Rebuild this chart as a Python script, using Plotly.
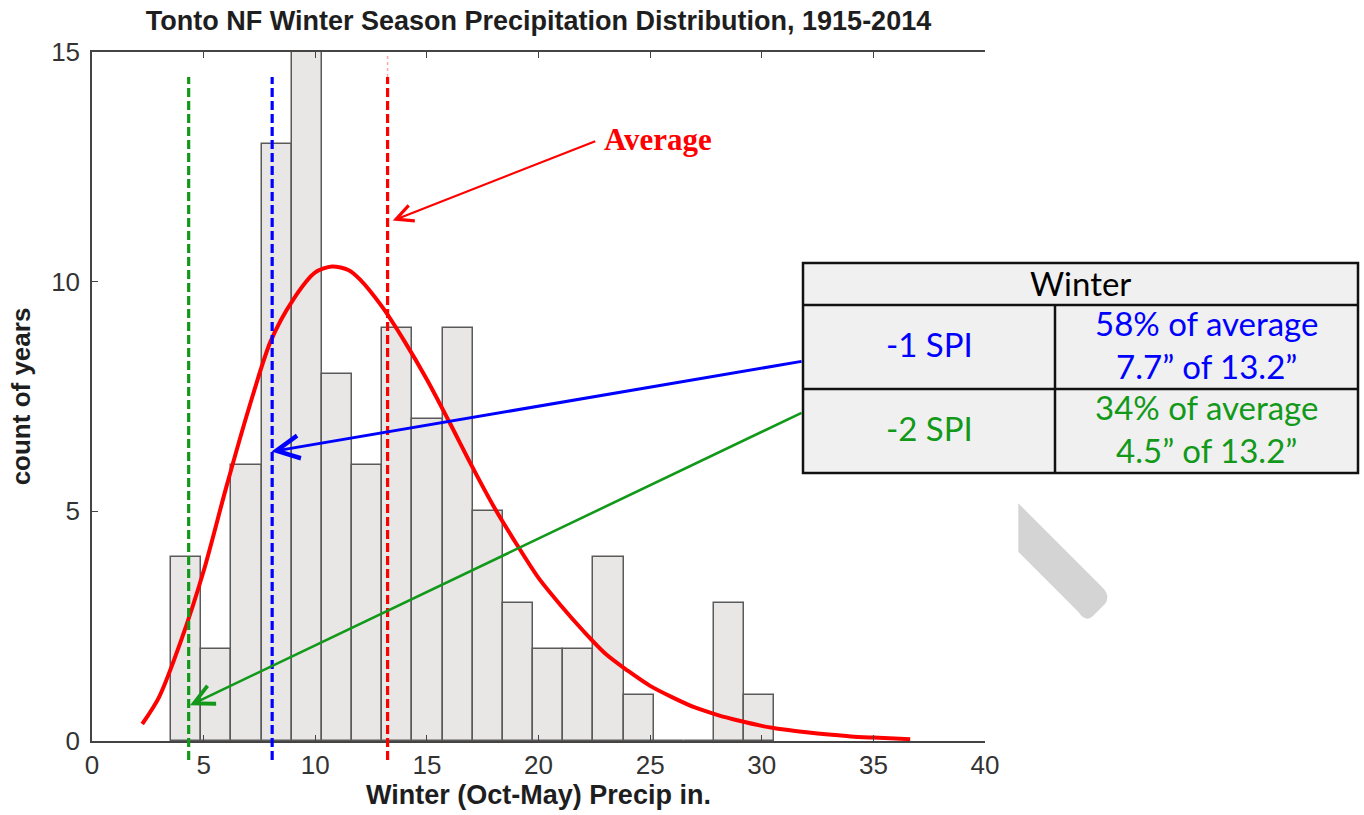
import plotly.graph_objects as go

# ---------------- data ----------------
precip_min = 3.54          # left edge of first histogram bin (in.)
precip_max = 30.57         # right edge of last histogram bin (in.)
year_counts = [4, 2, 6, 13, 15, 8, 6, 9, 7, 9, 5, 3, 2, 2, 4, 1, 0, 0, 3, 1]

fit_x = [2.25, 3, 4, 5, 6, 7, 8, 9, 10, 10.75, 11.5, 12, 13, 14, 15, 16, 17,
         18, 19, 20, 21, 22, 23, 24, 25, 26, 27, 28, 29, 30, 31, 32, 33, 34,
         35, 36.65]
fit_y = [0.37, 0.95, 2.2, 3.7, 5.5, 7.2, 8.7, 9.6, 10.2, 10.33, 10.25, 10.05,
         9.45, 8.7, 7.87, 6.95, 6.0, 5.1, 4.3, 3.55, 2.95, 2.4, 1.9, 1.53,
         1.2, 0.95, 0.73, 0.57, 0.44, 0.33, 0.25, 0.19, 0.14, 0.10, 0.075,
         0.04]

ref_labels = ["-2 SPI", "-1 SPI", "Average"]
ref_values = [4.33, 8.07, 13.24]
ref_colors = ["#12991a", "#0000ff", "#ff0000"]

x_ticks = [0, 5, 10, 15, 20, 25, 30, 35, 40]
y_ticks = [0, 5, 10, 15]

# arrows (Average, -1 SPI, -2 SPI): tip and tail in data units
arrow_tip_x = [13.47, 8.04, 4.39]
arrow_tip_y = [11.33, 6.30, 0.78]
arrow_tail_x = [22.61, 31.85, 31.85]
arrow_tail_y = [13.07, 8.27, 7.16]
arrow_colors = ["#ff0000", "#0000ff", "#12991a"]

table_header = "Winter"
table_rows = ["-1 SPI", "-2 SPI"]
table_pct = ["58% of average", "34% of average"]
table_inch = ["7.7\u201d of 13.2\u201d", "4.5\u201d of 13.2\u201d"]
table_colors = ["#0000ff", "#12991a"]

# ---------------- layout geometry ----------------
W_PX, H_PX = 1364, 815
ML, MR, MT, MB = 92, 379, 52, 74
PW = W_PX - ML - MR
PH = H_PX - MT - MB


def px(xp):
    return (xp - ML) / PW


def py(yp):
    return (H_PX - MB - yp) / PH


n_bins = len(year_counts)
bin_w = (precip_max - precip_min) / n_bins
bin_centers = [precip_min + bin_w * (i + 0.5) for i in range(n_bins)]

AX_FONT = "Liberation Sans"
TXT = "#1e1e1e"

fig = go.Figure()

fig.add_trace(go.Bar(
    x=bin_centers, y=year_counts, width=bin_w,
    marker=dict(color="#e9e6e6", line=dict(color="#5a5a5a", width=1.5)),
    showlegend=False, hoverinfo="x+y",
))

fig.add_trace(go.Scatter(
    x=fit_x, y=fit_y, mode="lines",
    line=dict(color="#ff0000", width=4, shape="spline", smoothing=0.8),
    showlegend=False,
))

shapes = []
for v, c in zip(ref_values, ref_colors):
    shapes.append(dict(
        type="line", xref="x", yref="paper", x0=v, x1=v,
        y0=py(760), y1=py(77), layer="above",
        line=dict(color=c, width=3.2, dash="9px,4px"),
    ))
# faint dotted continuation of the average line
shapes.append(dict(
    type="line", xref="x", yref="paper", x0=ref_values[2], x1=ref_values[2],
    y0=py(77), y1=py(53), layer="above",
    line=dict(color="rgba(255,0,0,0.35)", width=1.5, dash="dot"),
))

# table
TL, TR, TT, TH, TM, TB, TC = 803, 1358, 263, 305, 389, 473, 1055
shapes.append(dict(type="rect", xref="paper", yref="paper",
                   x0=px(TL), x1=px(TR), y0=py(TB), y1=py(TT),
                   fillcolor="#f0f0f0", line=dict(color="#111111", width=2.5),
                   layer="above"))
for yy in (TH, TM):
    shapes.append(dict(type="line", xref="paper", yref="paper",
                       x0=px(TL), x1=px(TR), y0=py(yy), y1=py(yy),
                       line=dict(color="#111111", width=2.5), layer="above"))
shapes.append(dict(type="line", xref="paper", yref="paper",
                   x0=px(TC), x1=px(TC), y0=py(TH), y1=py(TB),
                   line=dict(color="#111111", width=2.5), layer="above"))

# grey leftover stroke
blob = [(1018.3, 503.3), (1102, 587), (1111, 596), (1105, 604), (1093, 616),
        (1086, 623), (1078, 611.4), (1018.3, 551.7)]
path = "M {:.5f},{:.5f} L {:.5f},{:.5f} Q {:.5f},{:.5f} {:.5f},{:.5f} L {:.5f},{:.5f} Q {:.5f},{:.5f} {:.5f},{:.5f} L {:.5f},{:.5f} Z".format(
    px(blob[0][0]), py(blob[0][1]), px(blob[1][0]), py(blob[1][1]),
    px(blob[2][0]), py(blob[2][1]), px(blob[3][0]), py(blob[3][1]),
    px(blob[4][0]), py(blob[4][1]), px(blob[5][0]), py(blob[5][1]),
    px(blob[6][0]), py(blob[6][1]), px(blob[7][0]), py(blob[7][1]))
shapes.append(dict(type="path", xref="paper", yref="paper", path=path,
                   fillcolor="#d4d4d4", line=dict(width=0), layer="above"))

annotations = []
arrow_widths = [2.2, 3, 2.6]
for i in range(3):
    annotations.append(dict(
        x=arrow_tip_x[i], y=arrow_tip_y[i], xref="x", yref="y",
        ax=arrow_tail_x[i], ay=arrow_tail_y[i], axref="x", ayref="y",
        text="", showarrow=True, arrowhead=5, arrowsize=1.5,
        arrowwidth=arrow_widths[i], arrowcolor=arrow_colors[i],
    ))

annotations.append(dict(
    x=px(602), y=py(139), xref="paper", yref="paper",
    xanchor="left", yanchor="middle", showarrow=False,
    text="<b>Average</b>",
    font=dict(family="Liberation Serif", size=31, color="#ff0000"),
))

TFONT = "Lato"
TSIZE = 33
annotations.append(dict(
    x=px((TL + TR) / 2), y=py(283), xref="paper", yref="paper",
    xanchor="center", yanchor="middle", showarrow=False,
    text=table_header, font=dict(family=TFONT, size=TSIZE, color="#000000"),
))
row_mid = [(TH + TM) / 2 - 3, (TM + TB) / 2 - 3]
for i in range(2):
    annotations.append(dict(
        x=px((TL + TC) / 2), y=py(row_mid[i]), xref="paper", yref="paper",
        xanchor="center", yanchor="middle", showarrow=False,
        text=table_rows[i], font=dict(family=TFONT, size=TSIZE, color=table_colors[i]),
    ))
    annotations.append(dict(
        x=px((TC + TR) / 2), y=py(row_mid[i]), xref="paper", yref="paper",
        xanchor="center", yanchor="middle", showarrow=False,
        text=table_pct[i] + "<br>" + table_inch[i],
        font=dict(family=TFONT, size=TSIZE, color=table_colors[i]),
    ))

fig.update_layout(
    width=W_PX, height=H_PX,
    margin=dict(l=ML, r=MR, t=MT, b=MB, pad=0, autoexpand=False),
    paper_bgcolor="white", plot_bgcolor="white",
    title=dict(text="<b>Tonto NF Winter Season Precipitation Distribution, 1915-2014</b>",
               x=0.5, xref="paper", xanchor="center",
               y=1 - 20.5 / H_PX, yref="container", yanchor="middle",
               automargin=False,
               font=dict(family=AX_FONT, size=27, color=TXT)),
    shapes=shapes, annotations=annotations,
    bargap=0, showlegend=False,
)
fig.update_xaxes(
    range=[0, 40], tickvals=x_ticks, ticktext=[str(t) for t in x_ticks],
    ticks="inside", ticklen=6, tickwidth=1.2, tickcolor="#444",
    showline=True, linecolor="#444", linewidth=1.5, mirror="ticks",
    showgrid=False, zeroline=False, automargin=False,
    tickfont=dict(family=AX_FONT, size=26, color="#333"),
    ticklabelstandoff=0,
    title=dict(text="<b>Winter (Oct-May) Precip in.</b>", standoff=6,
               font=dict(family=AX_FONT, size=27, color=TXT)),
)
fig.update_yaxes(
    range=[0, 15], tickvals=y_ticks, ticktext=[str(t) for t in y_ticks],
    ticks="inside", ticklen=6, tickwidth=1.2, tickcolor="#444",
    showline=True, linecolor="#444", linewidth=1.5, mirror=False,
    showgrid=False, zeroline=False, automargin=False,
    tickfont=dict(family=AX_FONT, size=26, color="#333"),
    ticklabelstandoff=5,
    title=dict(text="<b>count of years</b>", standoff=13,
               font=dict(family=AX_FONT, size=26, color=TXT)),
)

fig.write_html(
    "out.html",
    config={"displayModeBar": False},
    post_script="document.body.style.margin='0';document.body.style.padding='0';",
)
